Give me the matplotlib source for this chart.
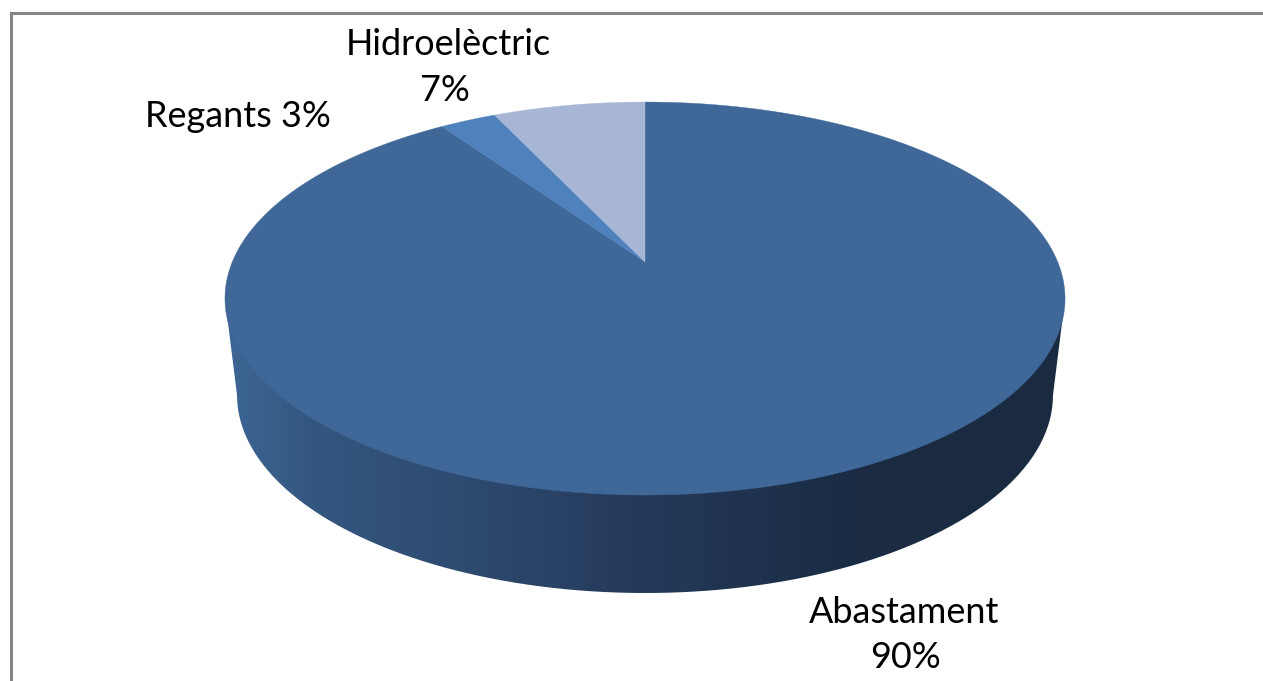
import numpy as np
import matplotlib
matplotlib.use("Agg")
import matplotlib.pyplot as plt
from matplotlib.colors import LinearSegmentedColormap
from matplotlib.patches import Polygon, PathPatch
from matplotlib.path import Path

# data, clockwise from 12 o'clock
categories = ["Abastament", "Regants", "Hidroelèctric"]
shares = [90.4, 2.6, 7.0]
share_labels = ["90%", "3%", "7%"]

colors = ["#3F6797", "#4F81BD", "#A7B6D5"]
side_stops = [(0.0, "#3D6696"), (0.10, "#345780"), (0.33, "#2C476B"),
              (0.50, "#24395A"), (0.75, "#1A2C43"), (1.0, "#1A2B41")]

W, H = 1263, 681
fig = plt.figure(figsize=(W / 100, H / 100), dpi=100, facecolor="white")
ax = fig.add_axes([0, 0, 1, 1])
ax.set_xlim(0, W)
ax.set_ylim(H, 0)
ax.axis("off")

# chart frame (only top and left edges are inside the crop)
ax.plot([10.5, 10.5, W], [H, 13, 13], color="#868686", lw=2.2,
        solid_joinstyle="miter", zorder=1)

# perspective projection of the pie's top disc
APEX_X, APEX_Y = 645, 262
PERSP, KX, KY = 0.186, 412.7, 189.7


def project(theta):
    d = 1 + PERSP * np.cos(theta)
    return APEX_X + KX * np.sin(theta) / d, APEX_Y - KY * np.cos(theta) / d


# side wall with horizontal gradient
BOT_CX, BOT_CY, BOT_RX, BOT_RY = 645, 395, 408, 198
t = np.linspace(0, np.pi, 200)
bx = BOT_CX + BOT_RX * np.cos(t)
by = BOT_CY + BOT_RY * np.sin(t)
rim_r = project(np.arccos(-PERSP))
rim_l = (2 * APEX_X - rim_r[0], rim_r[1])
side_xy = np.vstack([[rim_r], np.column_stack([bx, by]), [rim_l]])
cmap = LinearSegmentedColormap.from_list("side", side_stops)
grad = np.linspace(0, 1, 512)[None, :]
im = ax.imshow(grad, cmap=cmap, extent=[rim_l[0], rim_r[0], 600, 290],
               aspect="auto", zorder=2, interpolation="bilinear")
clip = PathPatch(Path(np.vstack([side_xy, side_xy[:1]])), transform=ax.transData,
                 fc="none", ec="none")
ax.add_patch(clip)
im.set_clip_path(clip)
ax.set_xlim(0, W)
ax.set_ylim(H, 0)

# top slices
cum = np.cumsum([0] + shares) / sum(shares) * 2 * np.pi
for i, col in enumerate(colors):
    th = np.linspace(cum[i], cum[i + 1], 400)
    px, py = project(th)
    pts = np.vstack([[APEX_X, APEX_Y], np.column_stack([px, py])])
    ax.add_patch(Polygon(pts, closed=True, fc=col, ec=col, lw=0.3, zorder=3))

# labels
font = dict(family="Lato", fontsize=25.9, color="black", zorder=5)
ax.text(904, 623, categories[0], ha="center", va="baseline", **font)
ax.text(905, 668, share_labels[0], ha="center", va="baseline", **font)
ax.text(145, 127, f"{categories[1]} {share_labels[1]}", ha="left", va="baseline", **font)
ax.text(448, 55, categories[2], ha="center", va="baseline", **font)
ax.text(445, 101, share_labels[2], ha="center", va="baseline", **font)

fig.savefig("out.png", dpi=100, facecolor="white")
